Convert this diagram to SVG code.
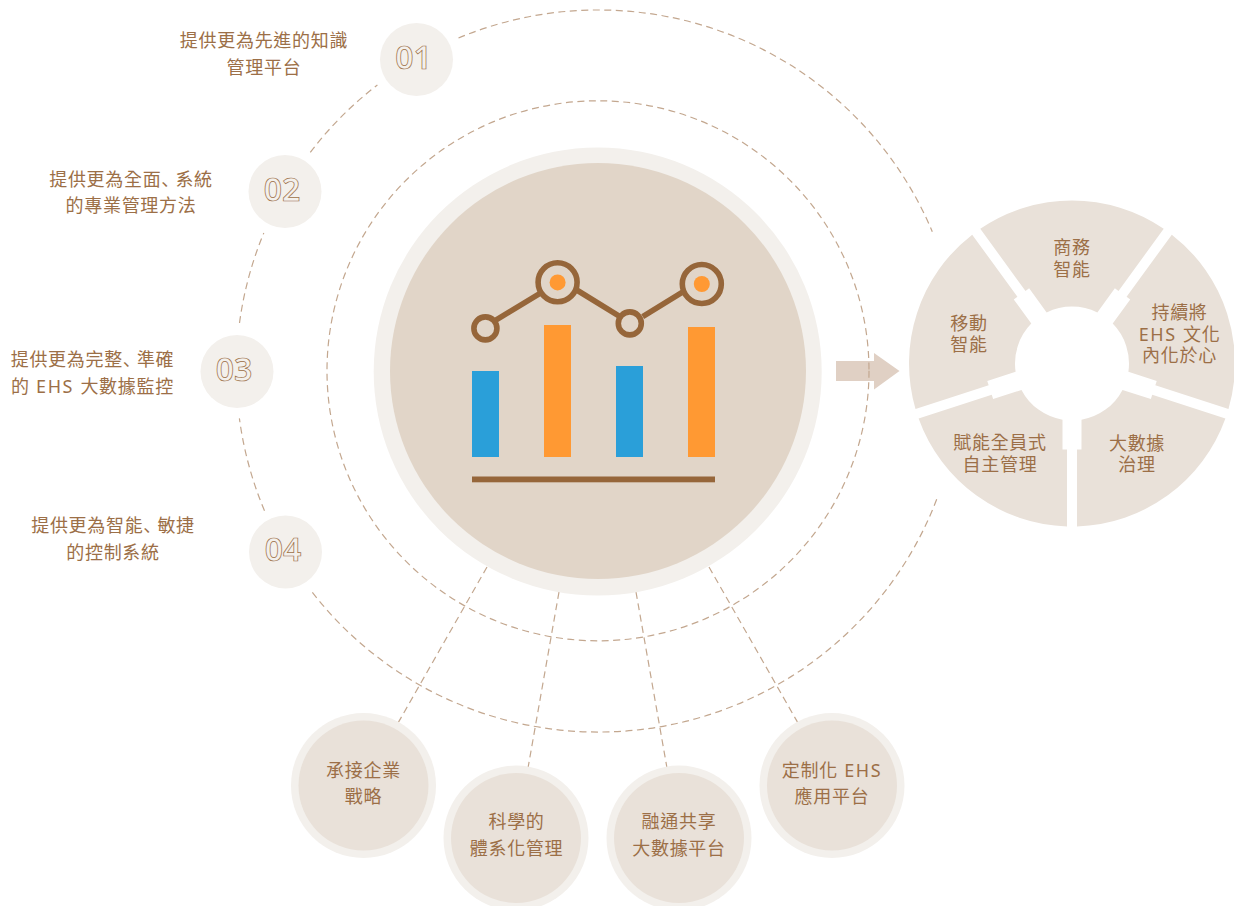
<svg xmlns="http://www.w3.org/2000/svg" xmlns:xlink="http://www.w3.org/1999/xlink" width="1234" height="906" viewBox="0 0 1234 906">
<style>
text{font-family:"Noto Sans","Noto Sans CJK TC",sans-serif;font-size:18px;letter-spacing:0.7px;fill:#9c6f47;text-anchor:middle}
.num{font-size:32px;font-weight:600;letter-spacing:0;fill:#f3f0ec;stroke:#9c6f47;stroke-width:0.7}
.pun{font-family:"Noto Sans CJK JP",sans-serif;font-feature-settings:"palt";letter-spacing:5px}
.lat{letter-spacing:1.6px}
.halo{fill:#f3f0ec}
.soft{fill:#e9e1d9}
.dash{fill:none;stroke:#c3a78f;stroke-width:1.2;stroke-dasharray:7 4.5}
.ink{fill:none;stroke:#96663a;stroke-width:5.6}
.orange{fill:#ff9933}
.blue{fill:#2a9fd9}
</style>
<defs>
<path id="sector" class="soft" d="M-91.72,-134.74A163 163 0 0 1 91.72,-134.74L46.51,-72.51L42.87,-75.16L25.35,-51.05A57 57 0 0 0 -25.35,-51.05L-42.87,-75.16L-46.51,-72.51Z"/>
</defs>
<rect width="1234" height="906" fill="#ffffff"/>
<g id="arrow"><polygon points="836,361 874,361 874,353 899.5,371 874,389.5 874,381 836,381" fill="#e0d0c4"/></g>
<g id="connectors">
<ellipse class="dash" cx="598" cy="370.8" rx="271" ry="270"/>
<path class="dash" d="M458.5,38A362 361 0 0 1 932.3,231.7"/>
<path class="dash" d="M936.7,499.3A362 361 0 0 1 310.5,590"/>
<path class="dash" d="M264.5,510.7A362 361 0 0 1 239.4,418.3"/>
<path class="dash" d="M239.5,323A362 361 0 0 1 263.8,233"/>
<path class="dash" d="M310.3,152.3A362 361 0 0 1 377.4,85"/>
<path class="dash" d="M487,567L398,723"/>
<path class="dash" d="M559,592L528,768"/>
<path class="dash" d="M636,592L667,768"/>
<path class="dash" d="M709,567L798,723"/>
</g>
<g id="hub">
<circle class="halo" cx="597.7" cy="371.5" r="224"/>
<circle cx="598" cy="371" r="208" fill="#e1d5c8"/>
<rect class="blue" x="472" y="371" width="27" height="86"/>
<rect class="orange" x="544" y="325" width="27" height="132"/>
<rect class="blue" x="616" y="366" width="27" height="91"/>
<rect class="orange" x="688" y="327" width="27" height="130"/>
<rect x="472" y="476.5" width="243" height="5.8" fill="#96663a"/>
<path class="ink" d="M495,320.7L540,293.3M576.7,290L620,316.7M642.7,316.7L683.3,291.7"/>
<circle class="ink" cx="485.4" cy="328.4" r="11.5"/>
<circle class="ink" cx="557.6" cy="282.2" r="19.5"/>
<circle class="ink" cx="629.8" cy="323.4" r="11.5"/>
<circle class="ink" cx="701.8" cy="284" r="19.5"/>
<circle class="orange" cx="557.6" cy="282.4" r="8"/>
<circle class="orange" cx="701.8" cy="284" r="8"/>
</g>
<g id="item-01"><circle class="halo" cx="416.5" cy="59.5" r="36.5"/><text class="num" x="413.5" y="69">01</text><text x="264" y="47">提供更為先進的知識</text><text x="264" y="74">管理平台</text></g>
<g id="item-02"><circle class="halo" cx="285" cy="191.5" r="36.5"/><text class="num" x="282" y="201">02</text><text x="131" y="186">提供更為全面<tspan class="pun">、</tspan>系統</text><text x="131" y="212">的專業管理方法</text></g>
<g id="item-03"><circle class="halo" cx="237" cy="371.5" r="36.5"/><text class="num" x="234" y="381">03</text><text x="92.5" y="366">提供更為完整<tspan class="pun">、</tspan>準確</text><text x="92.5" y="393">的<tspan class="lat"> EHS </tspan>大數據監控</text></g>
<g id="item-04"><circle class="halo" cx="285.5" cy="552" r="36.5"/><text class="num" x="283" y="561">04</text><text x="113" y="532">提供更為智能<tspan class="pun">、</tspan>敏捷</text><text x="113" y="559">的控制系統</text></g>
<g id="feature-1"><circle class="halo" cx="363.5" cy="785.5" r="72.5"/><circle class="soft" cx="363.5" cy="785.5" r="65"/><text x="363.5" y="777">承接企業</text><text x="363.5" y="803">戰略</text></g>
<g id="feature-2"><circle class="halo" cx="516" cy="838" r="72.5"/><circle class="soft" cx="516" cy="838" r="65"/><text x="516.5" y="828">科學的</text><text x="516.5" y="855">體系化管理</text></g>
<g id="feature-3"><circle class="halo" cx="679" cy="838" r="72.5"/><circle class="soft" cx="679" cy="838" r="65"/><text x="679" y="828">融通共享</text><text x="679" y="855">大數據平台</text></g>
<g id="feature-4"><circle class="halo" cx="832" cy="785.5" r="72.5"/><circle class="soft" cx="832" cy="785.5" r="65"/><text x="832" y="777">定制化<tspan class="lat"> EHS</tspan></text><text x="832" y="803">應用平台</text></g>
<g id="pie-1"><use xlink:href="#sector" href="#sector" transform="translate(1072 363.5)"/><text x="1072" y="254">商務</text><text x="1072" y="276">智能</text></g>
<g id="pie-2"><use xlink:href="#sector" href="#sector" transform="translate(1072 363.5) rotate(72)"/><text x="1179.5" y="319">持續將</text><text x="1179.5" y="341"><tspan class="lat">EHS </tspan>文化</text><text x="1179.5" y="362">內化於心</text></g>
<g id="pie-3"><use xlink:href="#sector" href="#sector" transform="translate(1072 363.5) rotate(144)"/><text x="1137" y="450">大數據</text><text x="1137" y="471">治理</text></g>
<g id="pie-4"><use xlink:href="#sector" href="#sector" transform="translate(1072 363.5) rotate(216)"/><text x="1000" y="449">賦能全員式</text><text x="1000" y="471">自主管理</text></g>
<g id="pie-5"><use xlink:href="#sector" href="#sector" transform="translate(1072 363.5) rotate(288)"/><text x="969" y="330">移動</text><text x="969" y="351">智能</text></g>
</svg>
